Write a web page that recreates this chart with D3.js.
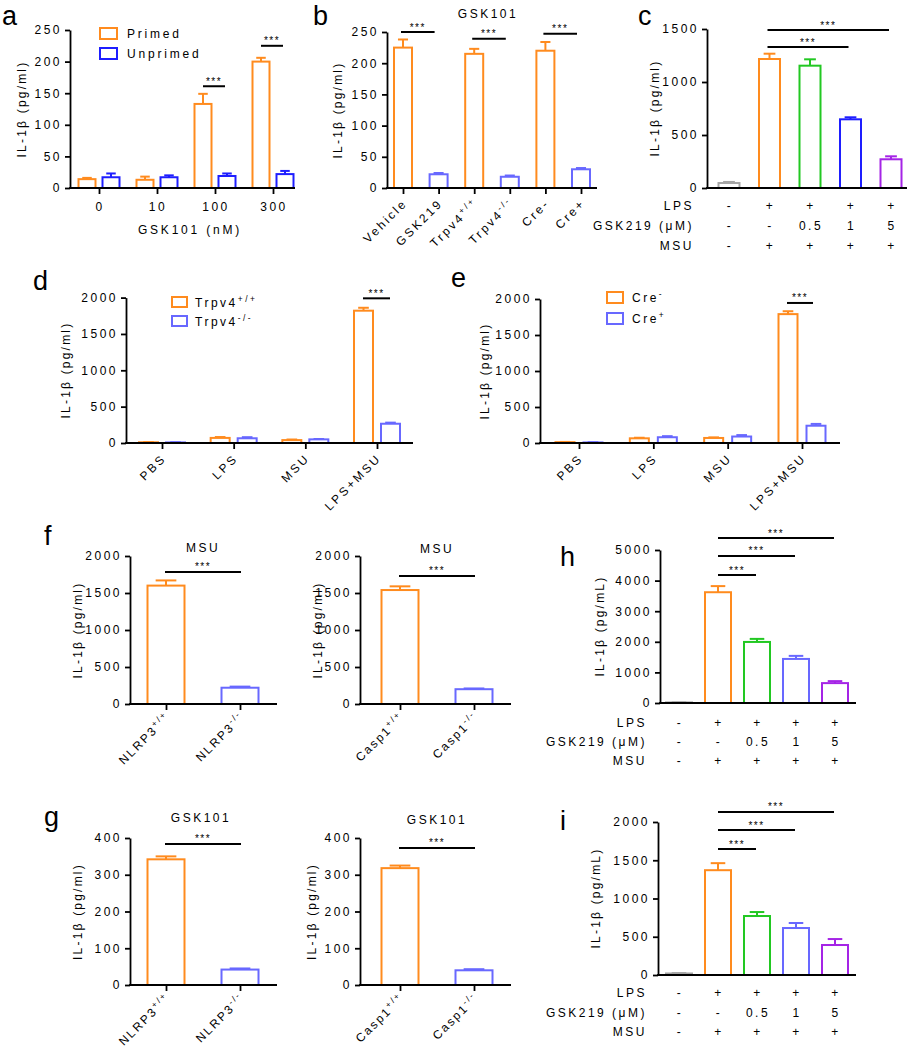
<!DOCTYPE html>
<html><head><meta charset="utf-8">
<script src="https://cdn.jsdelivr.net/npm/d3@7"></script>
<style>body{margin:0;background:#fff}svg{display:block}text{font-family:'Liberation Sans',Arial,sans-serif}</style>
</head><body><svg id="chart" width="913" height="1050"></svg>
<script>
// ---------------- DATA ----------------
// panel a
const aCats = ["0", "10", "100", "300"];
const aPrimed = [14, 13, 133, 200];
const aPrimedErr = [2, 5, 16, 6];
const aUnprimed = [17, 17, 19, 22];
const aUnprimedErr = [6, 3, 4, 5];
const aYTicks = [0, 50, 100, 150, 200, 250];
const aSig = [{cat: "100", v: 161}, {cat: "300", v: 225}];
// panel b
const bCats = ["Vehicle", "GSK219", "Trpv4+/+", "Trpv4-/-", "Cre-", "Cre+"];
const bLabels = [["Vehicle", ""], ["GSK219", ""], ["Trpv4", "+/+"], ["Trpv4", "-/-"], ["Cre-", ""], ["Cre+", ""]];
const bValues = [225, 22, 215, 18, 220, 30];
const bErr = [13, 2, 8, 2, 14, 2];
const bYTicks = [0, 50, 100, 150, 200, 250];
const bSig = [[0, 1, 250], [2, 3, 239], [4, 5, 247]];
// panel c
const trtCats = ["ctrl", "LPS+MSU", "GSK0.5", "GSK1", "GSK5"];
const cValues = [47, 1217, 1154, 648, 271];
const cErr = [10, 50, 60, 19, 28];
const cYTicks = [0, 500, 1000, 1500];
const cSig = [[1, 3, 1330], [1, 4, 1490]];
const condRowLabels = ["LPS", "GSK219 (\u03bcM)", "MSU"];
const condLPS = ["-", "+", "+", "+", "+"];
const condGSK = ["-", "-", "0.5", "1", "5"];
const condMSU = ["-", "+", "+", "+", "+"];
// panel d
const stimCats = ["PBS", "LPS", "MSU", "LPS+MSU"];
const dWT = [10, 70, 40, 1820];
const dWTErr = [3, 12, 8, 40];
const dKO = [8, 65, 50, 265];
const dKOErr = [3, 15, 5, 15];
const dSigV = 1990;
// panel e
const eCreNeg = [12, 65, 70, 1790];
const eCreNegErr = [3, 8, 8, 40];
const eCrePos = [8, 80, 90, 240];
const eCrePosErr = [3, 15, 20, 25];
const eSigV = 1945;
const deYTicks = [0, 500, 1000, 1500, 2000];
// panels f, g
const nlrpCats = ["NLRP3+/+", "NLRP3-/-"];
const caspCats = ["Casp1+/+", "Casp1-/-"];
const fNLRP3 = [1600, 220], fNLRP3Err = [70, 15], fNLRP3Sig = 1785;
const fCasp1 = [1540, 200], fCasp1Err = [50, 10], fCasp1Sig = 1730;
const fYTicks = [0, 500, 1000, 1500, 2000];
const gNLRP3 = [342, 42], gNLRP3Err = [8, 3], gNLRP3Sig = 384;
const gCasp1 = [318, 40], gCasp1Err = [7, 3], gCasp1Sig = 373;
const gYTicks = [0, 100, 200, 300, 400];
// panel h
const hValues = [20, 3620, 1995, 1440, 650];
const hErr = [5, 200, 100, 100, 65];
const hYTicks = [0, 1000, 2000, 3000, 4000, 5000];
const hSig = [[1, 2, 4183], [1, 3, 4804], [1, 4, 5392]];
// panel i
const iValues = [20, 1370, 771, 614, 392];
const iErr = [5, 92, 52, 66, 78];
const iYTicks = [0, 500, 1000, 1500, 2000];
const iSig = [[1, 2, 1647], [1, 3, 1895], [1, 4, 2131]];

// ---------------- STYLE ----------------
const ORANGE = "#FF8B1E", BLUE = "#1E1EFF", LBLUE = "#6868FF", GREEN = "#22C822", PURPLE = "#A524E6", GREY = "#A6A6A6";
const FS = 12, LS = 2.5;
const svg = d3.select("#chart");
svg.append("rect").attr("width", 913).attr("height", 1050).attr("fill", "#fff");

function txt(g, x, y, s, o = {}) {
  const t = g.append("text").attr("x", x).attr("y", y)
    .attr("font-size", o.fs || FS).attr("letter-spacing", o.ls != null ? o.ls : LS)
    .attr("text-anchor", o.anchor || "start").attr("fill", "#000").text(s);
  if (o.rotate != null) t.attr("transform", `rotate(${o.rotate},${x},${y})`);
  return t;
}
function supText(g, x, y, main, sup, o = {}) {
  const t = g.append("text").attr("x", x).attr("y", y)
    .attr("font-size", o.fs || FS).attr("letter-spacing", o.ls != null ? o.ls : LS)
    .attr("text-anchor", o.anchor || "start").attr("fill", "#000");
  if (o.dy) t.attr("dy", o.dy);
  t.append("tspan").text(main);
  if (sup) t.append("tspan").attr("font-size", (o.fs || FS) * 0.7).attr("dy", -5).text(sup);
  if (o.transform) t.attr("transform", o.transform);
  return t;
}
function letter(x, y, s) { txt(svg, x, y, s, {fs: 27, ls: 0}); }
function yTitle(g, x, y, s) { txt(g, x, y, s, {anchor: "middle", rotate: -90, ls: 2.2}); }
function stars(g, x1, x2, yy) {
  g.append("line").attr("x1", x1).attr("x2", x2).attr("y1", yy).attr("y2", yy).attr("stroke", "#000").attr("stroke-width", 2);
  txt(g, (x1 + x2) / 2, yy - 1.5, "***", {fs: 10, ls: 1.5, anchor: "middle"});
}

function panel(p) {
  const g = svg.append("g");
  const y = d3.scaleLinear().domain([0, p.ymax]).range([p.y0, p.y1]);
  const x = d3.scalePoint().domain(p.cats).range([p.xc0, p.xc1]);
  p.series.forEach(s => {
    p.cats.forEach((c, i) => {
      const cx = x(c) + (s.offset || 0);
      const col = Array.isArray(s.color) ? s.color[i] : s.color;
      const v = s.values[i], e = s.errs[i];
      g.append("line").attr("x1", cx).attr("x2", cx).attr("y1", y(v)).attr("y2", y(v + e)).attr("stroke", col).attr("stroke-width", 2);
      g.append("line").attr("x1", cx - p.bw * 0.28).attr("x2", cx + p.bw * 0.28).attr("y1", y(v + e)).attr("y2", y(v + e)).attr("stroke", col).attr("stroke-width", 2);
      g.append("rect").attr("x", cx - p.bw / 2).attr("y", y(v)).attr("width", p.bw).attr("height", Math.max(0, y(0) - y(v)))
        .attr("fill", "#fff").attr("stroke", col).attr("stroke-width", 2);
    });
  });
  const ya = g.append("g").attr("transform", `translate(${p.ax},0)`)
    .call(d3.axisLeft(y).tickValues(p.yticks).tickSize(5).tickSizeOuter(0).tickPadding(3).tickFormat(d3.format("d")));
  ya.select(".domain").attr("stroke", "#000").attr("stroke-width", 1.8);
  ya.selectAll(".tick line").attr("stroke", "#000").attr("stroke-width", 1.8);
  ya.selectAll(".tick text").attr("font-size", FS).attr("letter-spacing", LS).attr("fill", "#000")
    .attr("font-family", "'Liberation Sans',Arial,sans-serif");
  if (p.xticks) {
    const xa = g.append("g").attr("transform", `translate(0,${p.y0})`).call(d3.axisBottom(x).tickSize(6).tickFormat(""));
    xa.select(".domain").remove();
    xa.selectAll(".tick line").attr("stroke", "#000").attr("stroke-width", 1.8);
  }
  g.append("line").attr("x1", p.ax - 0.9).attr("x2", p.xEnd).attr("y1", p.y0).attr("y2", p.y0).attr("stroke", "#000").attr("stroke-width", 1.8);
  return {g, x, y};
}
function rotLabels(P, labels, y0, o = {}) {
  P.x.domain().forEach((c, i) => {
    const xx = P.x(c) + 2, yy = y0 + (o.off || 13);
    supText(P.g, xx, yy, labels[i][0], labels[i][1], {anchor: "end", dy: "0.35em", ls: o.ls, transform: `rotate(-45,${xx},${yy})`});
  });
}
function condTable(P, rowYs, labelX) {
  const rows = [condLPS, condGSK, condMSU];
  rows.forEach((r, ri) => {
    txt(P.g, labelX, rowYs[ri] + 4, condRowLabels[ri], {anchor: "end"});
    P.x.domain().forEach((c, i) => txt(P.g, P.x(c) + 1, rowYs[ri] + 4, r[i], {anchor: "middle"}));
  });
}

// ---------- a ----------
{
  const P = panel({cats: aCats, ax: 70, xEnd: 295, xc0: 99, xc1: 273, y0: 188, y1: 30, ymax: 250, yticks: aYTicks, bw: 17, xticks: true,
    series: [{values: aPrimed, errs: aPrimedErr, color: ORANGE, offset: -12}, {values: aUnprimed, errs: aUnprimedErr, color: BLUE, offset: 12}]});
  aCats.forEach(c => txt(P.g, P.x(c) + 1, 211, c, {anchor: "middle"}));
  txt(P.g, 190, 234, "GSK101 (nM)", {anchor: "middle", ls: 2.8});
  yTitle(P.g, 26, 109, "IL-1\u03b2 (pg/ml)");
  aSig.forEach(s => stars(P.g, P.x(s.cat) - 12, P.x(s.cat) + 10, P.y(s.v)));
  [["Primed", ORANGE, 28], ["Unprimed", BLUE, 48]].forEach(([t, c, yy]) => {
    P.g.append("rect").attr("x", 100).attr("y", yy).attr("width", 17).attr("height", 11).attr("fill", "#fff").attr("stroke", c).attr("stroke-width", 2);
    txt(P.g, 127, yy + 10, t, {ls: 2.8});
  });
  letter(2, 25, "a");
}
// ---------- b ----------
{
  const bColors = [ORANGE, LBLUE, ORANGE, LBLUE, ORANGE, LBLUE];
  const P = panel({cats: bCats, ax: 387, xEnd: 597, xc0: 403, xc1: 581, y0: 188, y1: 32, ymax: 250, yticks: bYTicks, bw: 18, xticks: true,
    series: [{values: bValues, errs: bErr, color: bColors, offset: 0}]});
  rotLabels(P, bLabels, 188);
  yTitle(P.g, 342, 110, "IL-1\u03b2 (pg/ml)");
  txt(P.g, 488, 18, "GSK101", {anchor: "middle"});
  bSig.forEach(([i1, i2, v]) => stars(P.g, P.x(bCats[i1]) - 2, P.x(bCats[i2]) - 4, P.y(v)));
  letter(313, 25, "b");
}
// ---------- c ----------
{
  const P = panel({cats: trtCats, ax: 707, xEnd: 907, xc0: 729, xc1: 891, y0: 188, y1: 29, ymax: 1500, yticks: cYTicks, bw: 21, xticks: false,
    series: [{values: cValues, errs: cErr, color: [GREY, ORANGE, GREEN, BLUE, PURPLE], offset: 0}]});
  yTitle(P.g, 659, 108, "IL-1\u03b2 (pg/ml)");
  cSig.forEach(([i1, i2, v]) => stars(P.g, P.x(trtCats[i1]) - 2, P.x(trtCats[i2]) - 2, P.y(v)));
  condTable(P, [206, 226, 246], 694);
  letter(638, 25, "c");
}
// ---------- d ----------
{
  const P = panel({cats: stimCats, ax: 126, xEnd: 413, xc0: 162, xc1: 377, y0: 443, y1: 297.6, ymax: 2000, yticks: deYTicks, bw: 19, xticks: true,
    series: [{values: dWT, errs: dWTErr, color: ORANGE, offset: -13.5}, {values: dKO, errs: dKOErr, color: LBLUE, offset: 13.5}]});
  rotLabels(P, stimCats.map(s => [s, ""]), 443);
  yTitle(P.g, 70, 370, "IL-1\u03b2 (pg/ml)");
  stars(P.g, P.x("LPS+MSU") - 14, P.x("LPS+MSU") + 13, P.y(dSigV));
  [["Trpv4", "+/+", ORANGE, 297], ["Trpv4", "-/-", LBLUE, 316]].forEach(([t, s, c, yy]) => {
    P.g.append("rect").attr("x", 172).attr("y", yy).attr("width", 15).attr("height", 10).attr("fill", "#fff").attr("stroke", c).attr("stroke-width", 2);
    supText(P.g, 195, yy + 10, t, s, {});
  });
  letter(33, 290, "d");
}
// ---------- e ----------
{
  const P = panel({cats: stimCats, ax: 540, xEnd: 840, xc0: 579, xc1: 802, y0: 443, y1: 299, ymax: 2000, yticks: deYTicks, bw: 19, xticks: true,
    series: [{values: eCreNeg, errs: eCreNegErr, color: ORANGE, offset: -14}, {values: eCrePos, errs: eCrePosErr, color: LBLUE, offset: 14}]});
  rotLabels(P, stimCats.map(s => [s, ""]), 443);
  yTitle(P.g, 489, 371, "IL-1\u03b2 (pg/ml)");
  stars(P.g, P.x("LPS+MSU") - 15, P.x("LPS+MSU") + 11, P.y(eSigV));
  [["Cre", "-", ORANGE, 292], ["Cre", "+", LBLUE, 313]].forEach(([t, s, c, yy]) => {
    P.g.append("rect").attr("x", 607).attr("y", yy).attr("width", 16).attr("height", 11).attr("fill", "#fff").attr("stroke", c).attr("stroke-width", 2);
    supText(P.g, 632, yy + 10, t, s, {});
  });
  letter(451, 287, "e");
}
// ---------- f & g ----------
function twoBar(cats, vals, errs, sigV, ax, xEnd, xc0, xc1, y0, y1, ymax, ticks, title, titleX, titleY, ytX) {
  const P = panel({cats, ax, xEnd, xc0, xc1, y0, y1, ymax, yticks: ticks, bw: 37, xticks: true,
    series: [{values: vals, errs, color: [ORANGE, LBLUE], offset: 0}]});
  rotLabels(P, cats.map(c => [c.replace(/[+-]\/[+-]$/, ""), c.match(/[+-]\/[+-]$/)[0]]), y0, {off: 11, ls: 2});
  txt(P.g, titleX, titleY, title, {anchor: "middle"});
  yTitle(P.g, ytX, (y0 + y1) / 2, "IL-1\u03b2 (pg/ml)");
  stars(P.g, P.x(cats[0]) - 1, P.x(cats[1]) + 1, P.y(sigV));
  return P;
}
twoBar(nlrpCats, fNLRP3, fNLRP3Err, fNLRP3Sig, 130, 277, 166, 240, 704, 556, 2000, fYTicks, "MSU", 203, 552, 82);
twoBar(caspCats, fCasp1, fCasp1Err, fCasp1Sig, 360, 511, 400, 474, 704, 556, 2000, fYTicks, "MSU", 437, 553, 322);
twoBar(nlrpCats, gNLRP3, gNLRP3Err, gNLRP3Sig, 130, 277, 166, 240, 985, 838, 400, gYTicks, "GSK101", 201, 822, 82);
twoBar(caspCats, gCasp1, gCasp1Err, gCasp1Sig, 360, 511, 400, 474, 985, 838, 400, gYTicks, "GSK101", 437, 824, 316);
letter(44, 545, "f");
letter(44, 826, "g");
// ---------- h ----------
{
  const P = panel({cats: trtCats, ax: 660, xEnd: 856, xc0: 679, xc1: 835, y0: 703, y1: 550, ymax: 5000, yticks: hYTicks, bw: 26, xticks: false,
    series: [{values: hValues, errs: hErr, color: [GREY, ORANGE, GREEN, LBLUE, PURPLE], offset: 0}]});
  yTitle(P.g, 604, 626, "IL-1\u03b2 (pg/mL)");
  hSig.forEach(([i1, i2, v]) => stars(P.g, P.x(trtCats[i1]), P.x(trtCats[i2]) - 1, P.y(v)));
  condTable(P, [723, 742, 761], 647);
  letter(560, 566, "h");
}
// ---------- i ----------
{
  const P = panel({cats: trtCats, ax: 658, xEnd: 856, xc0: 679, xc1: 835, y0: 975, y1: 822, ymax: 2000, yticks: iYTicks, bw: 26, xticks: false,
    series: [{values: iValues, errs: iErr, color: [GREY, ORANGE, GREEN, LBLUE, PURPLE], offset: 0}]});
  yTitle(P.g, 600, 898, "IL-1\u03b2 (pg/mL)");
  iSig.forEach(([i1, i2, v]) => stars(P.g, P.x(trtCats[i1]), P.x(trtCats[i2]) - 1, P.y(v)));
  condTable(P, [993, 1013, 1032], 647);
  letter(560, 830, "i");
}
</script></body></html>
